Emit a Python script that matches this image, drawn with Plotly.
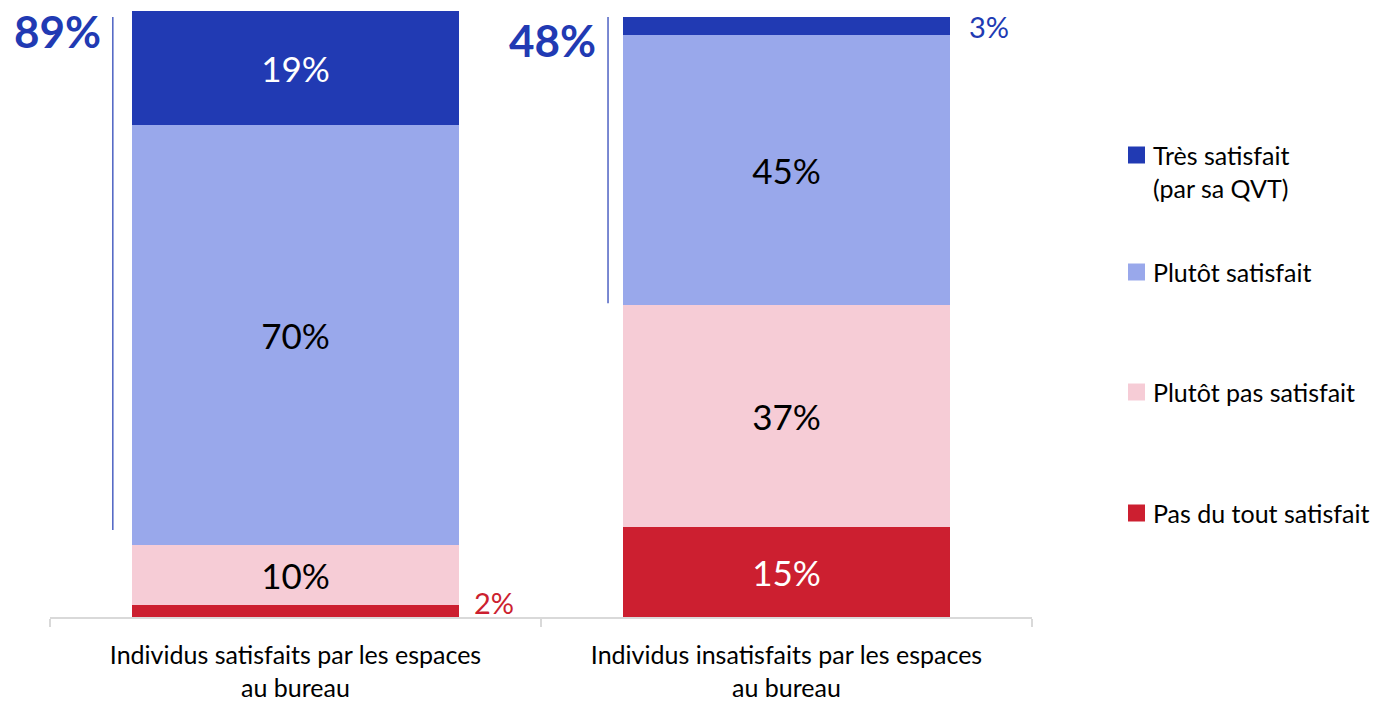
import plotly.graph_objects as go

categories = [
    "Individus satisfaits par les espaces<br>au bureau",
    "Individus insatisfaits par les espaces<br>au bureau",
]
series_names = [
    "Pas du tout satisfait",
    "Plutôt pas satisfait",
    "Plutôt satisfait",
    "Très satisfait<br>(par sa QVT)",
]
pas_du_tout = [2, 15]
plutot_pas = [10, 37]
plutot = [70, 45]
tres = [19, 3]
satisfied_totals = [89, 48]

colors = ["#CC1F30", "#F6CCD6", "#99A8EB", "#213AB3"]
text_colors = ["white", "black", "black", "white"]
BLUE = "#213AB3"
FONT = "Lato"

fig = go.Figure()
series_values = [pas_du_tout, plutot_pas, plutot, tres]
for i, (name, vals) in enumerate(zip(series_names, series_values)):
    labels = [f"{v}%" if v >= 5 else "" for v in vals]
    fig.add_trace(go.Bar(
        x=categories, y=vals, name=name,
        marker=dict(color=colors[i], line=dict(width=0)),
        text=labels, textposition="inside", insidetextanchor="middle",
        textfont=dict(size=35, color=text_colors[i], family=FONT),
        hoverinfo="skip", showlegend=False,
    ))

# small-segment labels placed beside the bars
fig.add_annotation(x=0.36, xref="x", xanchor="left", y=2.5, yref="y",
                   text=f"{pas_du_tout[0]}%", showarrow=False,
                   font=dict(size=29, color=colors[0], family=FONT))
fig.add_annotation(x=1.368, xref="x", xanchor="left", y=98.5, yref="y",
                   text=f"{tres[1]}%", showarrow=False,
                   font=dict(size=29, color=colors[3], family=FONT))

# satisfied totals with bracket lines
bracket_x = [-0.372, 1 - 0.3635]
bracket_bottom = [14.5, 52.3]
total_x = [-0.392, 1 - 0.384]
total_y = [97.6, 96.25]
for k in range(2):
    fig.add_shape(type="line", xref="x", yref="y",
                  x0=bracket_x[k], x1=bracket_x[k], y0=100, y1=bracket_bottom[k],
                  line=dict(color=BLUE, width=1.2))
    fig.add_annotation(x=total_x[k], xref="x", xanchor="right", y=total_y[k], yref="y",
                       text=f"<b>{satisfied_totals[k]}%</b>", showarrow=False,
                       font=dict(size=44, color=BLUE, family=FONT))

# legend drawn at the right: colour squares and labels (top entry first)
PLOT_L, PLOT_R, PLOT_T, PLOT_B = 50, 1032, 11, 617
legend_rows_px = [513, 392, 272, 155]


def px_x(px):
    return (px - PLOT_L) / (PLOT_R - PLOT_L)


def px_y(px):
    return (PLOT_B - px) / (PLOT_B - PLOT_T)


for i, name in enumerate(series_names):
    cy = legend_rows_px[i]
    fig.add_shape(type="rect", xref="paper", yref="paper",
                  x0=px_x(1128), x1=px_x(1145), y0=px_y(cy + 8.5), y1=px_y(cy - 8.5),
                  fillcolor=colors[i], line=dict(width=0))
    fig.add_annotation(x=px_x(1151), xref="paper", xanchor="left",
                       y=px_y(cy - 17), yref="paper", yanchor="top",
                       text=name, showarrow=False, align="left",
                       font=dict(size=25, color="black", family=FONT))

fig.update_layout(
    barmode="stack", bargap=0.334,
    width=1373, height=705,
    margin=dict(l=PLOT_L, r=1373 - PLOT_R, t=PLOT_T, b=705 - PLOT_B),
    paper_bgcolor="white", plot_bgcolor="white",
    font=dict(family=FONT, color="black"),
    showlegend=False,
    xaxis=dict(range=[-0.5, 1.5], automargin=False, showline=True,
               linecolor="#D9D9D9", linewidth=2,
               ticks="outside", tickcolor="#D9D9D9", ticklen=8, tickwidth=2,
               tickson="boundaries", ticklabelstandoff=15,
               tickfont=dict(size=25, color="black", family=FONT)),
    yaxis=dict(range=[0, 101], visible=False, showgrid=False, automargin=False),
)

fig.write_html("out.html")
